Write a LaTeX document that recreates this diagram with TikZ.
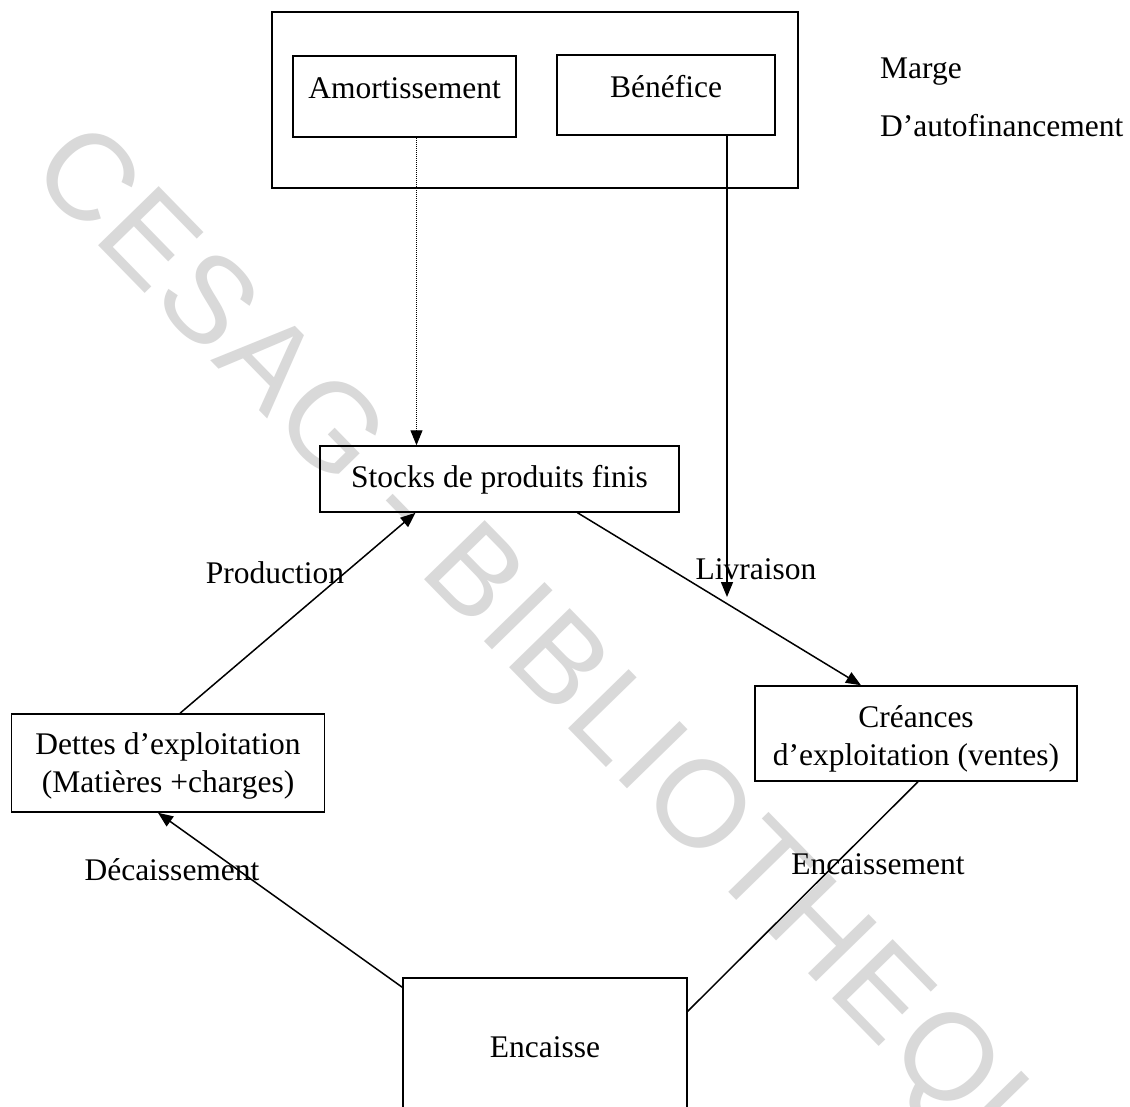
\documentclass[tikz,border=0pt]{standalone}
\usepackage{fontspec}
\setmainfont{Liberation Serif}
\newfontfamily\wmfont[LetterSpace=2.5]{Liberation Sans}
\usetikzlibrary{arrows.meta}

\tikzset{
  txt/.style={font=\fontsize{31.5pt}{38pt}\selectfont, inner sep=0pt},
  boxed/.style={txt, draw, line width=1.5pt, align=center},
  flow/.style={line width=1.5pt, -{Triangle[length=15pt,width=12pt]}},
  flowdot/.style={line width=1pt, densely dotted, -{Triangle[length=15pt,width=12pt]}},
  plainflow/.style={line width=1.5pt},
  mark text/.style={font=\wmfont\fontsize{123pt}{123pt}\selectfont, text=black!15, inner sep=0pt}
}
% two stacked lines whose first baseline is the box baseline
\newcommand\twolines[2]{\begin{tabular}[t]{@{}c@{}}#1\\#2\end{tabular}}

\begin{document}
\begin{tikzpicture}[x=1pt,y=-1pt]
  \clip (0,0) rectangle (1130,1106);
  \fill[white] (0,0) rectangle (1130,1106);

  % library stamp across the page
  \node[mark text, rotate=-45.7, anchor=base west] (stamp) at (27,173) {CESAG - BIBLIOTHEQUE};

  % self-financing capacity
  \node[draw, line width=1.5pt, minimum width=526pt, minimum height=176pt, inner sep=0pt] (caf) at (535,100) {};
  \node[boxed, minimum width=223pt, text height=42pt, text depth=39pt] (amort) at (404.5,96.5) {Amortissement};
  \node[boxed, minimum width=218pt, text height=42pt, text depth=38pt] (benef) at (666,95) {Bénéfice};
  \node[txt, anchor=west] (marge) at (880,72) {Marge};
  \node[txt, anchor=west] (autof) at (880,126) {D’autofinancement};

  % operating cycle
  \node[boxed, minimum width=359pt, text height=41pt, text depth=25pt] (stocks) at (499.5,479) {Stocks de produits finis};
  \node[boxed, minimum width=322pt, text height=41pt, text depth=54pt] (creances) at (916,733.5)
       {\twolines{Créances}{d’exploitation (ventes)}};
  \node[boxed, minimum width=313pt, text height=40pt, text depth=58pt] (dettes) at (168,763)
       {\twolines{Dettes d’exploitation}{(Matières +charges)}};
  \node[boxed, minimum width=284pt, text height=79pt, text depth=59pt] (encaisse) at (545,1047) {Encaisse};

  % free end of the profit arrow
  \coordinate (benefend) at (727,597);

  % connectors
  \draw[flowdot] ([xshift=12pt]amort.south) -- ([xshift=12pt]amort.south |- stocks.north);
  \draw[flow] ([xshift=61pt]benef.south) -- (benefend);
  \draw[flow] ([xshift=12pt]dettes.north) -- ([xshift=-84pt]stocks.south);
  \draw[flow] ([xshift=78pt]stocks.south) -- ([xshift=-55pt]creances.north);
  \draw[flow] ([yshift=-10pt]encaisse.north west) -- ([xshift=-10pt]dettes.south);
  \draw[plainflow] ([xshift=2pt]creances.south) -- ([yshift=-34pt]encaisse.north east);

  % flow labels
  \node[txt] (lprod) at (275,573) {Production};
  \node[txt] (lliv) at (756,569) {Livraison};
  \node[txt] (ldec) at (172,870) {Décaissement};
  \node[txt] (lenc) at (878,864) {Encaissement};
\end{tikzpicture}
\end{document}
